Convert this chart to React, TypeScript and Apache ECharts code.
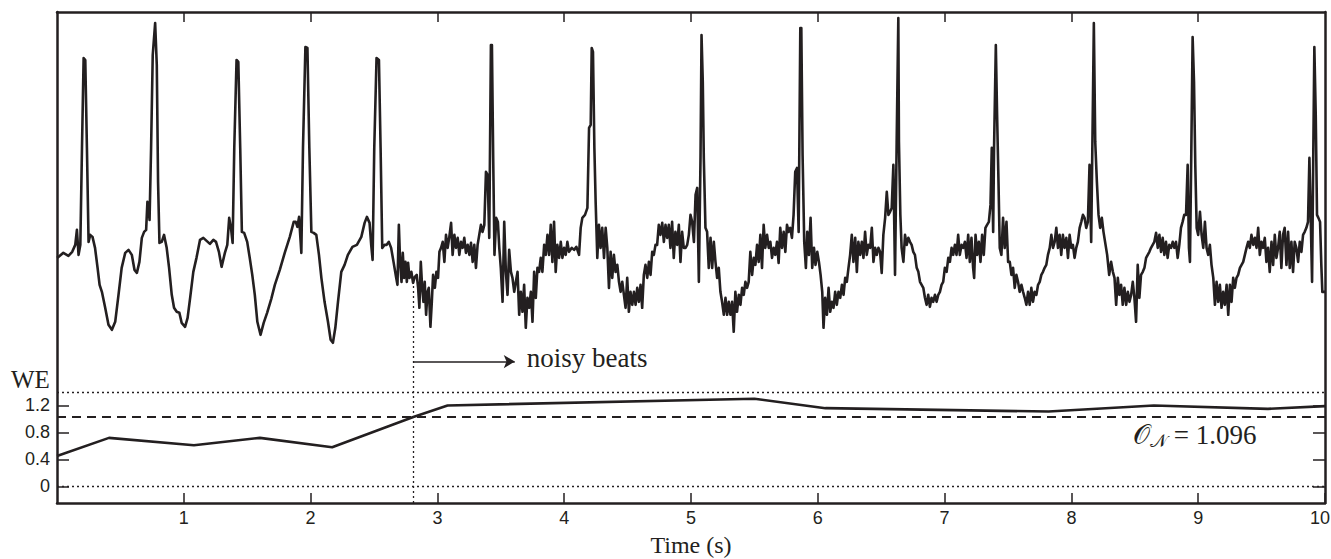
import React, { useEffect, useRef } from "react";
import * as echarts from "echarts";

// ---- axis ticks ----
const xTickValues = [1, 2, 3, 4, 5, 6, 7, 8, 9, 10];
const xTopTickValues = [1, 2, 3, 4, 5, 6, 7, 8, 9];
const weTickValues = [0, 0.4, 0.8, 1.2];

// ---- WE (window energy) curve ----
const weTime = [0, 0.41, 1.08, 1.6, 2.17, 2.81, 3.08, 5.5, 6.06, 7.82, 8.65, 9.55, 10];
const weValue = [0.45, 0.72, 0.61, 0.72, 0.58, 1.03, 1.2, 1.3, 1.16, 1.11, 1.2, 1.15, 1.19];

// ---- reference lines ----
const weDottedLevels = [0, 1.4];
const weThreshold = 1.04;
const noisyStart = 2.81;
const noisyArrowEnd = 3.61;

// ---- ECG (time s, amplitude mV) ----
const ecgClean: [number, number][] = [
  [0, -0.03], [0.013, -0.02], [0.05, 0.02], [0.09, -0.01], [0.12, 0.03], [0.144, 0.1], [0.157, 0.25], [0.17, 0.0], [0.184, 0.1],
  [0.197, 1.07], [0.21, 1.97], [0.223, 1.95], [0.236, 1.07], [0.249, 0.13], [0.262, 0.2], [0.28, 0.18], [0.3, 0.07], [0.32, -0.13],
  [0.336, -0.3], [0.354, -0.37], [0.38, -0.53], [0.406, -0.7], [0.433, -0.75], [0.459, -0.67], [0.485, -0.4], [0.51, -0.13],
  [0.538, 0.02], [0.564, 0.05], [0.59, 0.0], [0.611, -0.15], [0.63, -0.18], [0.65, -0.07], [0.669, 0.17], [0.687, 0.23], [0.703, 0.25],
  [0.713, 0.53], [0.724, 0.43], [0.73, 0.35], [0.742, 1.07], [0.755, 2.0], [0.774, 2.32], [0.787, 1.9], [0.797, 0.73], [0.808, 0.12],
  [0.826, 0.13], [0.844, 0.2], [0.865, 0.07], [0.884, -0.13], [0.905, -0.4], [0.923, -0.53], [0.944, -0.57], [0.965, -0.58],
  [0.983, -0.68], [1.01, -0.72], [1.03, -0.63], [1.05, -0.43], [1.075, -0.17], [1.1, -0.03], [1.128, 0.15], [1.154, 0.17], [1.18, 0.14],
  [1.206, 0.11], [1.233, 0.15], [1.254, 0.13], [1.277, 0.03], [1.298, -0.12], [1.324, 0.02], [1.343, 0.1], [1.358, 0.37], [1.372, 0.27],
  [1.385, 0.12], [1.398, 1.07], [1.416, 1.95], [1.43, 1.93], [1.445, 1.07], [1.458, 0.23], [1.476, 0.22], [1.5, 0.13], [1.52, -0.03],
  [1.54, -0.2], [1.56, -0.4], [1.58, -0.67], [1.605, -0.8], [1.63, -0.68], [1.657, -0.58], [1.69, -0.44], [1.718, -0.3], [1.757, -0.15],
  [1.796, 0.02], [1.836, 0.18], [1.867, 0.33], [1.883, 0.33], [1.896, 0.28], [1.909, 0.38], [1.927, 0.02], [1.94, 1.07], [1.959, 2.08],
  [1.975, 2.07], [1.99, 1.07], [2.006, 0.23], [2.024, 0.22], [2.045, 0.2], [2.066, 0.0], [2.085, -0.23], [2.11, -0.47], [2.137, -0.67],
  [2.158, -0.85], [2.176, -0.88], [2.195, -0.73], [2.216, -0.47], [2.242, -0.17], [2.268, -0.1], [2.294, 0.0], [2.33, 0.08], [2.365, 0.1],
  [2.4, 0.18], [2.426, 0.32], [2.444, 0.38], [2.465, 0.32], [2.478, 0.1], [2.489, -0.05], [2.502, 1.07], [2.52, 1.97], [2.539, 1.95],
  [2.552, 1.07], [2.565, 0.07], [2.583, 0.1], [2.6, 0.1], [2.617, 0.13], [2.635, 0.07], [2.654, -0.07], [2.675, -0.23],
];

const ecgNoisyA: [number, number][] = [
  [2.685, -0.3], [2.696, 0.3], [2.706, -0.07], [2.717, -0.27], [2.727, 0.02], [2.738, -0.23], [2.748, -0.07], [2.759, -0.27],
  [2.769, -0.08], [2.78, -0.23], [2.795, -0.17], [2.808, -0.28], [2.822, -0.22], [2.837, -0.2], [2.848, -0.33], [2.858, -0.53],
  [2.869, -0.07], [2.88, -0.33], [2.89, -0.47], [2.9, -0.27], [2.911, -0.6], [2.922, -0.37], [2.932, -0.33], [2.945, -0.72],
  [2.956, -0.47], [2.966, -0.2], [2.98, -0.33], [2.992, -0.17], [3.005, -0.23], [3.016, 0.03], [3.029, 0.07], [3.042, 0.13],
  [3.055, -0.07], [3.068, 0.2], [3.081, 0.07], [3.094, 0.18], [3.108, 0.32], [3.12, 0.0], [3.134, 0.2], [3.147, 0.07], [3.16, 0.17],
  [3.173, 0.0], [3.186, 0.13], [3.199, 0.07], [3.212, 0.17], [3.225, 0.02], [3.239, 0.1], [3.252, 0.0], [3.265, 0.12], [3.278, -0.07],
  [3.291, 0.1], [3.304, -0.13], [3.317, 0.1], [3.33, 0.2], [3.343, 0.3], [3.356, 0.23], [3.37, 0.3], [3.383, 0.83], [3.396, 0.8],
  [3.409, 0.17], [3.422, 2.1], [3.43, 2.1], [3.44, 0.97], [3.45, 0.0], [3.464, 0.37], [3.477, 0.33], [3.488, 0.07], [3.5, -0.13],
  [3.514, -0.47], [3.527, 0.33], [3.54, -0.17], [3.553, -0.4], [3.566, 0.05], [3.58, -0.17], [3.592, -0.23], [3.606, -0.37],
  [3.619, -0.27], [3.632, -0.17], [3.645, -0.6], [3.658, -0.37], [3.671, -0.57], [3.684, -0.3], [3.697, -0.73], [3.71, -0.43],
  [3.724, -0.53], [3.737, -0.37], [3.75, -0.67], [3.763, -0.17], [3.776, -0.43], [3.789, -0.13], [3.802, -0.17], [3.815, -0.03],
  [3.828, -0.17], [3.842, 0.1], [3.855, 0.0], [3.868, 0.2], [3.881, 0.0], [3.894, 0.3], [3.907, -0.07], [3.92, 0.33], [3.933, -0.17],
  [3.946, 0.1], [3.96, -0.03], [3.973, 0.13], [3.986, -0.03], [3.999, 0.07], [4.012, 0.0], [4.025, 0.13], [4.038, 0.03], [4.06, 0.07],
  [4.078, 0.05], [4.096, 0.08], [4.117, 0.0], [4.13, 0.27], [4.143, 0.37], [4.164, 0.4], [4.183, 0.47], [4.196, 1.27], [4.209, 1.3],
  [4.217, 2.07], [4.227, 2.03], [4.238, 1.07], [4.248, 0.53], [4.261, -0.03], [4.274, 0.3], [4.287, 0.07], [4.3, 0.27], [4.314, -0.03],
  [4.327, 0.27], [4.34, 0.07], [4.353, -0.33], [4.366, 0.03], [4.379, -0.23], [4.392, 0.0], [4.405, -0.17], [4.419, -0.1],
  [4.432, -0.27], [4.445, -0.37], [4.458, -0.27], [4.471, -0.4], [4.484, -0.53], [4.497, -0.23], [4.51, -0.57], [4.523, -0.37],
  [4.537, -0.5], [4.55, -0.37], [4.563, -0.5], [4.576, -0.33], [4.589, -0.47], [4.602, -0.3], [4.615, -0.53], [4.628, -0.2],
  [4.641, -0.1], [4.655, -0.23], [4.668, -0.07], [4.681, -0.2], [4.694, 0.03], [4.707, 0.0], [4.72, 0.1], [4.733, 0.1], [4.746, 0.3],
  [4.759, 0.2], [4.773, 0.32], [4.786, 0.13], [4.799, 0.3], [4.812, 0.17], [4.825, 0.3], [4.838, 0.07], [4.851, 0.33], [4.864, -0.03],
  [4.877, 0.23], [4.891, 0.1], [4.904, 0.3], [4.917, -0.07], [4.93, 0.23], [4.943, 0.07],
];

const ecgNoisyB: [number, number][] = [
  [4.957, 0.07], [4.97, 0.1], [4.983, 0.2], [4.996, 0.4], [5.009, 0.33], [5.023, 0.13], [5.036, 0.6], [5.049, 0.67], [5.062, -0.27],
  [5.075, 0.97], [5.083, 2.2], [5.093, 1.73], [5.101, 0.97], [5.114, 0.27], [5.127, 0.23], [5.14, -0.13], [5.154, 0.17], [5.167, -0.13],
  [5.18, 0.13], [5.193, -0.07], [5.206, -0.23], [5.219, -0.13], [5.232, -0.37], [5.245, -0.47], [5.259, -0.6], [5.272, -0.43],
  [5.285, -0.6], [5.298, -0.47], [5.311, -0.6], [5.324, -0.47], [5.337, -0.77], [5.35, -0.37], [5.363, -0.57], [5.377, -0.4],
  [5.39, -0.5], [5.403, -0.33], [5.416, -0.4], [5.429, -0.27], [5.442, -0.33], [5.455, -0.27], [5.468, 0.03], [5.482, -0.2],
  [5.495, -0.03], [5.508, -0.1], [5.521, 0.1], [5.534, -0.07], [5.547, 0.2], [5.56, -0.13], [5.573, 0.3], [5.586, 0.07], [5.6, 0.2],
  [5.613, 0.07], [5.626, 0.13], [5.639, -0.03], [5.652, 0.07], [5.665, 0.0], [5.678, 0.13], [5.691, -0.08], [5.704, 0.27], [5.718, 0.07],
  [5.731, 0.23], [5.744, 0.03], [5.757, 0.3], [5.77, 0.23], [5.783, 0.27], [5.796, 0.17], [5.809, 0.4], [5.822, 0.83], [5.836, 0.87],
  [5.849, 0.23], [5.862, 2.27], [5.87, 2.27], [5.88, 1.0], [5.893, 0.13], [5.906, -0.13], [5.917, 0.23], [5.93, 0.0], [5.943, 0.37],
  [5.956, -0.13], [5.97, 0.07], [5.982, -0.1], [5.996, 0.03], [6.009, -0.07], [6.022, -0.2], [6.035, -0.37], [6.045, -0.73],
  [6.058, -0.43], [6.072, -0.6], [6.085, -0.33], [6.098, -0.57], [6.111, -0.47], [6.124, -0.53], [6.137, -0.37], [6.15, -0.5],
  [6.163, -0.37], [6.177, -0.43], [6.19, -0.3], [6.203, -0.4], [6.216, -0.23], [6.229, -0.27], [6.242, -0.13], [6.255, 0.0],
  [6.268, 0.2], [6.281, -0.07], [6.295, 0.17], [6.308, -0.17], [6.32, 0.13], [6.334, 0.0], [6.347, 0.13], [6.36, -0.03], [6.373, 0.23],
  [6.386, 0.0], [6.399, 0.1], [6.413, 0.07], [6.426, 0.27], [6.439, -0.07], [6.452, 0.07], [6.465, 0.0], [6.478, 0.07], [6.491, 0.03],
  [6.504, -0.18], [6.517, 0.2], [6.531, 0.37], [6.544, 0.63], [6.557, 0.4], [6.57, 0.43], [6.583, 0.47], [6.596, 0.9], [6.609, -0.2],
  [6.622, 1.13], [6.635, 2.37], [6.64, 1.13], [6.651, 0.4], [6.661, 0.07], [6.675, -0.07], [6.688, 0.2], [6.701, 0.1], [6.714, 0.17],
  [6.727, 0.13], [6.74, 0.1], [6.753, 0.03], [6.766, 0.0], [6.78, -0.13], [6.793, -0.17], [6.806, -0.27], [6.819, -0.3], [6.832, -0.33],
  [6.845, -0.43], [6.858, -0.5], [6.871, -0.4], [6.884, -0.52], [6.897, -0.43], [6.91, -0.47], [6.924, -0.4], [6.937, -0.47],
  [6.95, -0.4], [6.963, -0.37], [6.976, -0.3], [6.989, -0.27], [7.002, -0.13], [7.016, -0.17], [7.029, -0.03], [7.042, -0.07],
  [7.055, 0.07], [7.068, 0.0], [7.081, 0.1], [7.094, 0.0], [7.107, 0.2], [7.12, 0.0], [7.134, 0.1], [7.147, 0.07], [7.16, 0.13],
  [7.173, -0.03], [7.186, 0.2], [7.199, -0.07], [7.212, 0.17], [7.225, -0.13], [7.233, -0.23], [7.244, 0.2], [7.257, 0.0], [7.27, 0.13],
  [7.283, -0.07], [7.296, 0.2], [7.309, 0.0], [7.322, 0.27], [7.335, 0.3], [7.349, 0.33], [7.362, 0.5], [7.372, 1.07], [7.383, 0.23],
  [7.39, 1.07], [7.404, 2.1], [7.414, 1.4], [7.425, 0.73], [7.435, 0.07], [7.448, 0.0], [7.461, 0.37], [7.474, 0.07], [7.488, 0.33],
  [7.501, -0.07], [7.514, -0.07], [7.527, -0.2], [7.54, -0.13], [7.553, -0.33], [7.566, -0.2], [7.579, -0.27], [7.592, -0.37],
  [7.606, -0.3], [7.619, -0.37], [7.632, -0.43], [7.645, -0.5], [7.658, -0.37], [7.671, -0.5], [7.684, -0.33], [7.697, -0.47],
  [7.71, -0.37], [7.724, -0.4], [7.737, -0.3], [7.75, -0.27], [7.763, -0.2], [7.776, -0.17], [7.789, -0.13], [7.802, -0.1], [7.815, 0.0],
  [7.829, 0.07], [7.842, 0.2], [7.855, 0.07], [7.868, 0.13], [7.881, 0.27], [7.894, 0.07], [7.907, 0.2], [7.92, 0.0], [7.933, 0.2],
  [7.946, 0.07], [7.96, 0.17], [7.973, -0.03], [7.986, 0.2], [7.999, 0.07], [8.012, 0.1], [8.025, -0.03], [8.038, 0.07], [8.051, 0.13],
  [8.065, 0.27], [8.078, 0.33], [8.091, 0.4], [8.104, 0.37], [8.117, 0.27], [8.13, 0.33], [8.143, 0.9], [8.156, 0.13], [8.17, 1.57],
  [8.177, 2.32], [8.188, 1.13], [8.201, 0.73], [8.214, 0.4], [8.227, 0.27], [8.24, 0.37], [8.253, 0.23],
];

const ecgNoisyC: [number, number][] = [
  [8.282, 0.0], [8.298, -0.2], [8.313, -0.07], [8.327, -0.17], [8.34, -0.23], [8.353, -0.5], [8.366, -0.23], [8.379, -0.4],
  [8.392, -0.3], [8.405, -0.5], [8.418, -0.33], [8.432, -0.5], [8.445, -0.37], [8.458, -0.47], [8.471, -0.4], [8.484, -0.27],
  [8.497, -0.43], [8.51, -0.67], [8.523, -0.1], [8.536, -0.43], [8.549, -0.2], [8.563, -0.17], [8.576, -0.13], [8.589, -0.03],
  [8.602, 0.0], [8.615, 0.03], [8.628, 0.07], [8.641, 0.1], [8.654, 0.13], [8.668, 0.22], [8.681, 0.07], [8.694, 0.2], [8.707, 0.03],
  [8.72, 0.17], [8.733, 0.0], [8.746, 0.13], [8.759, -0.03], [8.772, 0.1], [8.786, 0.07], [8.799, 0.13], [8.812, 0.07], [8.825, 0.13],
  [8.838, -0.03], [8.851, 0.1], [8.864, 0.27], [8.877, 0.33], [8.89, 0.4], [8.904, 0.4], [8.917, 0.9], [8.927, 0.07], [8.935, -0.07],
  [8.946, 1.07], [8.956, 2.18], [8.967, 1.73], [8.977, 0.9], [8.988, 0.27], [9.0, 0.2], [9.014, 0.43], [9.027, 0.2], [9.04, 0.07],
  [9.053, 0.33], [9.066, 0.07], [9.079, 0.0], [9.092, 0.1], [9.105, -0.1], [9.119, -0.23], [9.132, -0.5], [9.145, -0.27], [9.158, -0.47],
  [9.171, -0.3], [9.184, -0.53], [9.197, -0.37], [9.21, -0.5], [9.224, -0.3], [9.237, -0.6], [9.25, -0.3], [9.263, -0.47],
  [9.276, -0.23], [9.289, -0.33], [9.302, -0.23], [9.315, -0.2], [9.329, -0.13], [9.342, -0.1], [9.355, -0.07], [9.368, 0.0],
  [9.381, 0.07], [9.394, 0.13], [9.407, 0.07], [9.42, 0.2], [9.434, 0.1], [9.447, 0.17], [9.46, 0.07], [9.473, 0.27], [9.486, 0.0],
  [9.499, 0.13], [9.512, 0.07], [9.525, 0.17], [9.538, -0.07], [9.551, 0.07], [9.564, -0.17], [9.578, 0.13], [9.591, -0.1],
  [9.604, 0.2], [9.617, -0.03], [9.63, 0.07], [9.643, 0.23], [9.656, -0.13], [9.669, 0.2], [9.682, 0.27], [9.696, -0.1], [9.709, 0.23],
  [9.722, -0.13], [9.735, 0.13], [9.748, -0.17], [9.761, 0.13], [9.774, 0.07], [9.788, -0.07], [9.801, 0.13], [9.814, 0.03],
  [9.827, 0.2], [9.84, 0.23], [9.853, 0.27], [9.866, 0.33], [9.877, 0.97], [9.887, 0.4], [9.898, -0.27], [9.908, 1.07], [9.916, 2.08],
  [9.927, 1.4], [9.937, 0.4], [9.948, 0.37], [9.961, 0.33], [9.971, -0.1], [9.979, -0.37], [10, -0.37],
];

const INK = "#231f20";
const SANS = "'Liberation Sans', Arial, Helvetica, sans-serif";
const SERIF = "'Liberation Serif', 'Times New Roman', Times, serif";

export default function App() {
  const ref = useRef<HTMLDivElement>(null);

  useEffect(() => {
    if (!ref.current) return;
    const chart = echarts.init(ref.current, undefined, { renderer: "svg" });
    const ecg = [...ecgClean, ...ecgNoisyA, ...ecgNoisyB, ...ecgNoisyC];
    const we = weTime.map((t, i) => [t, weValue[i]]);
    const WE_MIN = -0.245;
    const WE_MAX = 7.03;

    const boxLine = { show: true, onZero: false, lineStyle: { color: INK, width: 2.5 } };
    const tickStyle = { color: INK, width: 1.5 };
    const lastX = xTickValues[xTickValues.length - 1];

    chart.setOption({
      animation: false,
      backgroundColor: "#ffffff",
      grid: { left: 57, right: 6, top: 12, bottom: 56, containLabel: false, outerBoundsMode: "none" },
      xAxis: [
        {
          type: "value",
          min: 0,
          max: 10,
          interval: 1,
          position: "bottom",
          axisLine: boxLine,
          axisTick: { show: true, inside: true, length: 10, customValues: xTickValues, lineStyle: tickStyle },
          axisLabel: {
            show: true,
            customValues: xTickValues,
            margin: 6,
            color: INK,
            fontSize: 18,
            fontFamily: SANS,
            formatter: (v: number) => (v === lastX ? `{r|${v}}` : `${v}`),
            rich: { r: { fontSize: 18, fontFamily: SANS, color: INK, padding: [0, 10, 0, 0] } },
          },
          splitLine: { show: false },
          name: "Time (s)",
          nameLocation: "middle",
          nameGap: 30,
          nameTextStyle: { color: INK, fontSize: 24, fontFamily: SERIF },
        },
        {
          type: "value",
          min: 0,
          max: 10,
          interval: 1,
          position: "top",
          axisLine: boxLine,
          axisTick: { show: true, inside: true, length: 10, customValues: xTopTickValues, lineStyle: tickStyle },
          axisLabel: { show: false },
          splitLine: { show: false },
        },
      ],
      yAxis: [
        {
          type: "value",
          min: WE_MIN,
          max: WE_MAX,
          position: "left",
          axisLine: boxLine,
          axisTick: { show: true, inside: true, length: 12, customValues: weTickValues, lineStyle: tickStyle },
          axisLabel: { show: true, customValues: weTickValues, margin: 7, color: INK, fontSize: 18, fontFamily: SANS },
          splitLine: { show: false },
        },
        {
          type: "value",
          min: WE_MIN,
          max: WE_MAX,
          position: "right",
          axisLine: boxLine,
          axisTick: { show: true, inside: true, length: 12, customValues: weTickValues, lineStyle: tickStyle },
          axisLabel: { show: false },
          splitLine: { show: false },
        },
        {
          type: "value",
          min: -2.483,
          max: 2.43,
          show: false,
          position: "left",
          axisLine: { show: false, onZero: false },
        },
      ],
      series: [
        {
          name: "ECG",
          type: "line",
          xAxisIndex: 0,
          yAxisIndex: 2,
          data: ecg,
          showSymbol: false,
          symbol: "none",
          lineStyle: { color: INK, width: 2.6, join: "round" },
          silent: true,
          z: 3,
        },
        {
          name: "WE",
          type: "line",
          xAxisIndex: 0,
          yAxisIndex: 0,
          data: we,
          showSymbol: false,
          symbol: "none",
          lineStyle: { color: INK, width: 2.6 },
          silent: true,
          z: 4,
          markLine: {
            silent: true,
            symbol: ["none", "none"],
            label: { show: false },
            data: [
              ...weDottedLevels.map((lv) => [
                { coord: [0, lv], lineStyle: { type: [2, 3], width: 1.3, color: INK } },
                { coord: [10, lv] },
              ]),
              [
                { coord: [0, weThreshold], lineStyle: { type: [9, 6], width: 1.8, color: INK } },
                { coord: [10, weThreshold] },
              ],
              [
                { coord: [noisyStart, WE_MIN], lineStyle: { type: [2, 3], width: 1.3, color: INK } },
                { coord: [noisyStart, 3.03] },
              ],
              [
                {
                  coord: [noisyStart, 1.85],
                  symbol: "none",
                  lineStyle: { type: "solid", width: 1.5, color: INK },
                  label: {
                    show: true,
                    position: "end",
                    formatter: "noisy beats",
                    distance: 12,
                    color: INK,
                    fontSize: 27,
                    fontFamily: SERIF,
                    offset: [0, -4],
                  },
                },
                { coord: [noisyArrowEnd, 1.85], symbol: "arrow", symbolSize: [10, 11] },
              ],
            ],
          },
        },
      ],
      graphic: [
        {
          type: "text",
          left: 11,
          top: 367,
          silent: true,
          style: { text: "WE", fill: INK, font: `25px ${SERIF}` },
        },
        {
          type: "text",
          left: 1133,
          top: 421,
          silent: true,
          style: {
            text: "{o|𝒪}{n|𝒩}{t| = 1.096}",
            rich: {
              o: { fontSize: 27, fontFamily: SERIF, fill: INK },
              n: { fontSize: 18, fontFamily: SERIF, fill: INK, padding: [12, 0, 0, 0] },
              t: { fontSize: 27, fontFamily: SERIF, fill: INK },
            },
          },
        },
      ],
    });

    return () => chart.dispose();
  }, []);

  return (
    <div
      ref={ref}
      style={{ position: "absolute", left: 0, top: 0, width: 1331, height: 559, background: "#fff" }}
    />
  );
}
